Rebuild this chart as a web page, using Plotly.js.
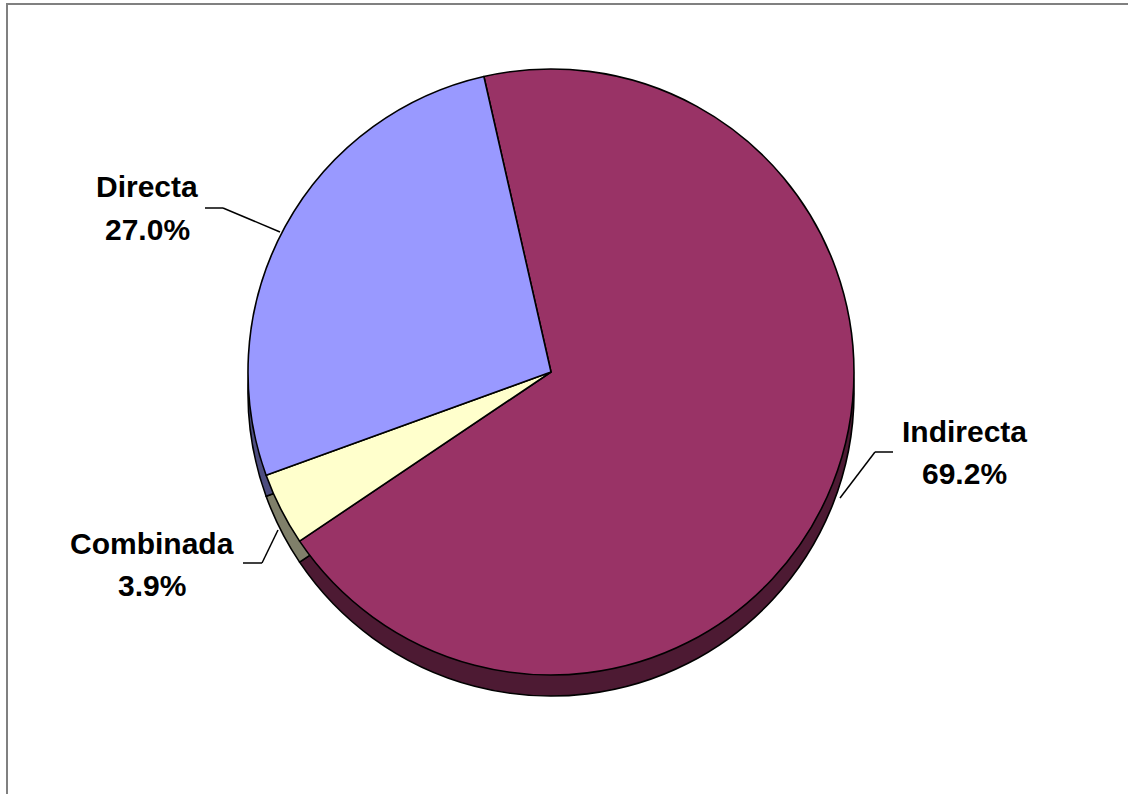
<!DOCTYPE html>
<html>
<head>
<meta charset="utf-8">
<script src="https://cdn.plot.ly/plotly-3.0.1.min.js"></script>
<style>
html,body{margin:0;padding:0;background:#fff;overflow:hidden;}
#wrap{position:relative;width:1128px;height:794px;}
#chart{width:1128px;height:794px;}
#frame{position:absolute;left:6px;top:3px;width:1130px;height:800px;border-top:2px solid #808080;border-left:2px solid #808080;pointer-events:none;}
</style>
</head>
<body>
<div id="wrap"><div id="chart"></div><div id="frame"></div></div>
<script>
// Data
const categories = ["Indirecta", "Combinada", "Directa"];
const shares = [69.2, 3.9, 27.0];

// Styles
const topColors = ["#993366", "#FFFFCC", "#9999FF"];
const sideColors = ["#4D1A33", "#80806A", "#4D4D80"];

const W = 1128, H = 794;
const cx = 551, cy = 372, R = 303, depth = 21;
function px(x){ return x / W; }
function py(y){ return 1 - y / H; }

const common = {
  type: "pie",
  labels: categories,
  values: shares,
  sort: false,
  direction: "clockwise",
  rotation: -12.8,
  textinfo: "none",
  hoverinfo: "skip",
  showlegend: false
};

const sideTrace = Object.assign({}, common, {
  name: "side",
  marker: { colors: sideColors, line: { color: "#000", width: 1.6 } },
  domain: { x: [px(cx - R), px(cx + R)], y: [py(cy + depth + R), py(cy + depth - R)] }
});
const topTrace = Object.assign({}, common, {
  name: "top",
  marker: { colors: topColors, line: { color: "#000", width: 1.6 } },
  domain: { x: [px(cx - R), px(cx + R)], y: [py(cy + R), py(cy - R)] }
});

// Label placements (pixel positions of label centers) and leader lines
const labelPos = [
  { x: 964, y1: 431, y2: 473, line: [[893, 452], [875, 452], [840, 498]] },
  { x: 152, y1: 543, y2: 585, line: [[243, 563], [262, 563], [278, 530]] },
  { x: 147, y1: 186, y2: 229, line: [[205, 208], [223, 208], [280, 232]] }
];
const font = { family: "Liberation Sans, Arial, sans-serif", size: 30, color: "#000" };
const annotations = [];
const shapes = [];
categories.forEach((c, i) => {
  const p = labelPos[i];
  annotations.push({ xref: "paper", yref: "paper", x: px(p.x), y: py(p.y1), text: "<b>" + c + "</b>", showarrow: false, font: font, xanchor: "center", yanchor: "middle" });
  annotations.push({ xref: "paper", yref: "paper", x: px(p.x), y: py(p.y2), text: "<b>" + shares[i].toFixed(1) + "%</b>", showarrow: false, font: font, xanchor: "center", yanchor: "middle" });
  const pts = p.line;
  for (let k = 0; k < pts.length - 1; k++) {
    shapes.push({ type: "line", xref: "paper", yref: "paper",
      x0: px(pts[k][0]), y0: py(pts[k][1]), x1: px(pts[k + 1][0]), y1: py(pts[k + 1][1]),
      line: { color: "#000", width: 1.5 } });
  }
});

const layout = {
  width: W, height: H,
  margin: { l: 0, r: 0, t: 0, b: 0 },
  paper_bgcolor: "#fff",
  plot_bgcolor: "#fff",
  annotations: annotations,
  shapes: shapes
};

Plotly.newPlot("chart", [sideTrace, topTrace], layout, { displayModeBar: false, staticPlot: true });
</script>
</body>
</html>
